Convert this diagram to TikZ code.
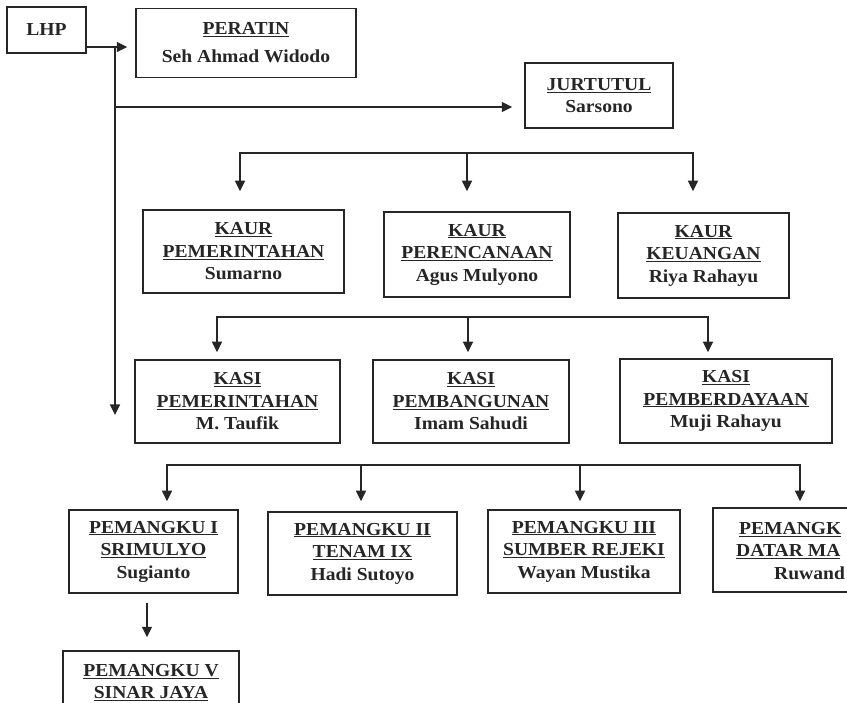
\documentclass[tikz,border=0pt]{standalone}
\usepackage{fontspec}
\setmainfont{Liberation Serif}[FakeStretch=1.07]
\usetikzlibrary{arrows.meta}
\tikzset{
  orgtext/.style={align=center, inner sep=0pt, text=black!85,
    font=\bfseries\fontsize{18.3}{22.5}\selectfont},
  orgbox/.style={orgtext, draw=black!85, line width=1.5pt},
  link/.style={draw=black!85, line width=1.2pt, line cap=rect},
  arr/.style={draw=black!85, line width=1.2pt, -{Triangle[length=10.5pt,width=10pt]}},
}
\begin{document}
\begin{tikzpicture}[x=1pt,y=-1pt]
\clip (0,0) rectangle (847,703);
\fill[white] (0,0) rectangle (847,703);

% boxes
\node[orgbox, minimum width=79pt, minimum height=46pt] (lhp) at (46.5,30) {LHP};
\node[orgbox, minimum width=220pt, minimum height=69pt,
      font=\bfseries\fontsize{18.3}{28}\selectfont] (peratin) at (246,43)
      {\underline{PERATIN}\\Seh Ahmad Widodo};
\node[orgbox, minimum width=148pt, minimum height=65pt] (jurtutul) at (599,95.5)
      {\underline{JURTUTUL}\\Sarsono};

\node[orgbox, minimum width=201pt, minimum height=83pt] (kaur1) at (243.5,251.5)
      {\underline{KAUR}\\\underline{PEMERINTAHAN}\\Sumarno};
\node[orgbox, minimum width=186pt, minimum height=85pt] (kaur2) at (477,254.5)
      {\underline{KAUR}\\\underline{PERENCANAAN}\\Agus Mulyono};
\node[orgbox, minimum width=171pt, minimum height=85pt] (kaur3) at (703.5,255.5)
      {\underline{KAUR}\\\underline{KEUANGAN}\\Riya Rahayu};

\node[orgbox, minimum width=205pt, minimum height=83pt] (kasi1) at (237.5,401.5)
      {\underline{KASI}\\\underline{PEMERINTAHAN}\\M. Taufik};
\node[orgbox, minimum width=196pt, minimum height=83pt] (kasi2) at (471,401.5)
      {\underline{KASI}\\\underline{PEMBANGUNAN}\\Imam Sahudi};
\node[orgbox, minimum width=212pt, minimum height=84pt] (kasi3) at (726,401)
      {\underline{KASI}\\\underline{PEMBERDAYAAN}\\Muji Rahayu};

\node[orgbox, minimum width=169pt, minimum height=83pt] (pem1) at (153.5,551.5)
      {\underline{PEMANGKU I}\\\underline{SRIMULYO}\\Sugianto};
\node[orgbox, minimum width=189pt, minimum height=83pt] (pem2) at (362.5,553.5)
      {\underline{PEMANGKU II}\\\underline{TENAM IX}\\Hadi Sutoyo};
\node[orgbox, minimum width=192pt, minimum height=83pt] (pem3) at (584,551.5)
      {\underline{PEMANGKU III}\\\underline{SUMBER REJEKI}\\Wayan Mustika};
\node[orgbox, minimum width=190pt, minimum height=84pt] (pem4) at (808,550) {};
\node[orgtext, anchor=west, align=left] (pem4t) at (736,551)
      {\hspace*{3pt}\underline{PEMANGK}\\\underline{DATAR MA}\\\hspace*{38pt}Ruwand};
\node[orgbox, minimum width=176pt, minimum height=83pt] (pem5) at (151,692.5) {};
\node[orgtext] (pem5t) at (151,682.5)
      {\underline{PEMANGKU V}\\\underline{SINAR JAYA}};

% left spine
\coordinate (j0) at (115,47);
\coordinate (j1) at (115,107);
\coordinate (jend) at (115,415);
\draw[arr, shorten >=8pt] (lhp.east |- j0) -- (peratin.west |- j0);
\draw[arr] (j0) -- (jend);
\draw[arr, shorten >=12pt] (j1) -- (jurtutul.west |- j1);

% bus 1
\coordinate (b1a) at (240,153);
\coordinate (b1b) at (467,153);
\coordinate (b1c) at (693,153);
\draw[link] (b1a) -- (b1c);
\draw[arr, shorten >=18pt] (b1a) -- (b1a |- kaur1.north);
\draw[arr, shorten >=20pt] (b1b) -- (b1b |- kaur2.north);
\draw[arr, shorten >=21pt] (b1c) -- (b1c |- kaur3.north);

% bus 2
\coordinate (b2a) at (217,317);
\coordinate (b2b) at (468,317);
\coordinate (b2c) at (708,317);
\draw[link] (b2a) -- (b2c);
\draw[arr, shorten >=7pt] (b2a) -- (b2a |- kasi1.north);
\draw[arr, shorten >=7pt] (b2b) -- (b2b |- kasi2.north);
\draw[arr, shorten >=6pt] (b2c) -- (b2c |- kasi3.north);

% bus 3
\coordinate (b3a) at (167,465);
\coordinate (b3b) at (361,465);
\coordinate (b3c) at (580,465);
\coordinate (b3d) at (800,465);
\draw[link] (b3a) -- (b3d);
\draw[arr, shorten >=8pt] (b3a) -- (b3a |- pem1.north);
\draw[arr, shorten >=10pt] (b3b) -- (b3b |- pem2.north);
\draw[arr, shorten >=8pt] (b3c) -- (b3c |- pem3.north);
\draw[arr, shorten >=6pt] (b3d) -- (b3d |- pem4.north);

% pemangku I -> V
\coordinate (c5) at (147,600);
\draw[arr, shorten <=9pt, shorten >=13pt] (c5 |- pem1.south) -- (c5 |- pem5.north);
\end{tikzpicture}
\end{document}
